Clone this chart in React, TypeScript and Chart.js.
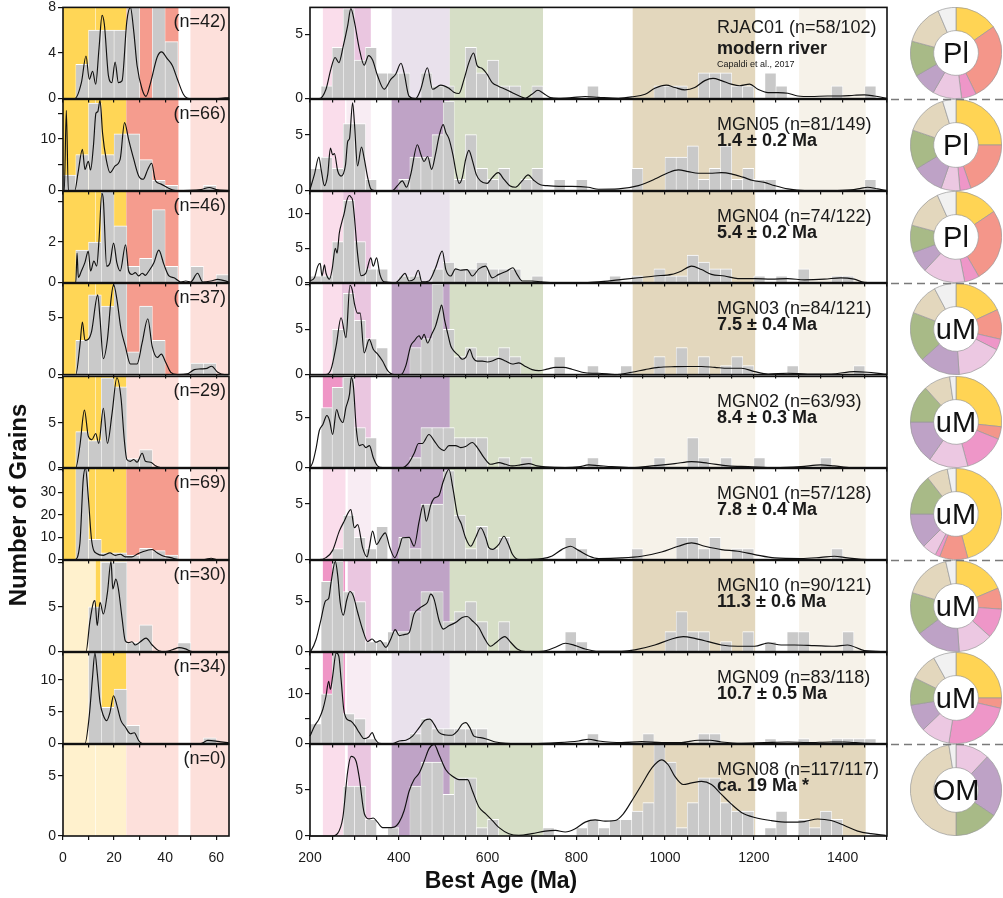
import React, { useEffect, useRef } from 'react';
import { Chart, registerables } from 'chart.js';
Chart.register(...registerables);

const FONT = '"Liberation Sans", Arial, Helvetica, sans-serif';

// ---------------- labels ----------------
const SAMPLE_IDS = ['RJAC01', 'MGN05', 'MGN04', 'MGN03', 'MGN02', 'MGN01', 'MGN10', 'MGN09', 'MGN08'];
const SAMPLE_COUNTS = ['(n=58/102)', '(n=81/149)', '(n=74/122)', '(n=84/121)', '(n=63/93)', '(n=57/128)', '(n=90/121)', '(n=83/118)', '(n=117/117)'];
const SAMPLE_AGES = ['modern river', '1.4 ± 0.2 Ma', '5.4 ± 0.2 Ma', '7.5 ± 0.4 Ma', '8.4 ± 0.3 Ma', '7.8 ± 0.4 Ma', '11.3 ± 0.6 Ma', '10.7 ± 0.5 Ma', 'ca. 19 Ma *'];
const YOUNG_COUNTS = [42, 66, 46, 37, 29, 69, 30, 34, 0];
const DONUT_TAGS = ['Pl', 'Pl', 'Pl', 'uM', 'uM', 'uM', 'uM', 'uM', 'OM'];
const SOURCE_NAMES = ['<23 Ma', '23–45 Ma', '230–275 Ma', '275–340 Ma', '385–515 Ma', '515–725 Ma', '925–1200 Ma', 'other'];

// ---------------- axes ----------------
const YOUNG_MIN = 0, YOUNG_MAX = 65, YOUNG_BIN = 5, YOUNG_STEP = 10;
const YOUNG_XLABELS = [0, 20, 40, 60];
const OLD_MIN = 200, OLD_MAX = 1500, OLD_BIN = 25, OLD_STEP = 50;
const OLD_XLABELS = [200, 400, 600, 800, 1000, 1200, 1400];

const YOUNG_YMAX = [8, 17.7, 4.5, 8, 10.15, 40.6, 10.2, 14.3, 7.6];
const YOUNG_YSTEP = [4, 5, 2, 5, 5, 10, 5, 5, 5];
const YOUNG_YLABELS = [[0, 4, 8], [0, 10], [0, 2], [0, 5], [0, 5], [0, 10, 20, 30], [0, 5], [0, 5, 10], [0, 5]];
const OLD_YMAX = [7.1, 8.15, 13.3, 10.1, 9.1, 8.2, 9.1, 18.3, 9.9];
const OLD_YSTEP = [5, 5, 5, 5, 5, 5, 5, 5, 5];
const OLD_YLABELS = [[0, 5], [0, 5], [0, 5, 10], [0, 5], [0, 5], [0, 5], [0, 5], [0, 10], [0, 5]];

// ---------------- histograms 0-65 Ma (5 Ma bins) ----------------
const YH_RJAC01 = [0, 3, 6, 6, 6, 8, 0, 8, 5, 0, 0, 0, 0];
const YH_MGN05 = [3, 7, 17, 7, 11, 11, 6, 2, 1, 0, 0, 1, 0];
const YH_MGN04 = [0, 1.6, 2.0, 4.5, 2.8, 0.8, 1.2, 3.6, 0.8, 0, 0.8, 0, 0.4];
const YH_MGN03 = [0, 3, 7, 6, 8, 2, 6, 3, 0, 0, 1, 1, 0];
const YH_MGN02 = [0, 4, 3, 10, 9, 1, 2, 0, 0, 0, 0, 0, 0];
const YH_MGN01 = [0, 41, 9, 3, 3, 2, 5, 4, 2, 0, 0, 0, 0];
const YH_MGN10 = [0, 0, 5, 10, 10, 1, 3, 0, 0, 1, 0, 0, 0];
const YH_MGN09 = [0, 0, 14.3, 5.7, 8.55, 2.85, 0, 0, 0, 0, 0, 0.9, 0];
const YH_MGN08: number[] = [];

// ---------------- histograms 200-1500 Ma (25 Ma bins) ----------------
const OH_RJAC01 = [0,1,4,7,3,4,2,2,2,0, 2,1,1,0,4,2,3,1,1,0, 1,0,0,0,0,1,0,0,0,0, 0,1,1,1,0,2,2,2,1,1, 0,2,1,0,0,0,0,1,0,0, 1,0];
const OH_MGN05 = [2,3,2,6,6,1,0,0,1,3, 3,5,8,1,5,2,1,2,0,1, 2,0,1,0,1,0,0,0,0,2, 0,0,3,3,4,1,2,4,1,2, 1,1,0,0,0,0,0,0,0,0, 1,0];
const OH_MGN04 = [1,1,6,12,6,2,2,0,1,1, 0,2,3,2,2,3,2,2,2,0, 1,0,0,0,0,0,0,1,0,1, 0,2,1,1,4,3,2,2,0,0, 1,0,1,0,2,0,0,1,1,0, 0,0];
const OH_MGN03 = [0,0,5,9,6,4,3,0,0,3, 4,10,5,2,3,2,2,3,2,0, 0,0,2,0,0,1,0,0,1,0, 0,2,0,3,0,2,0,1,2,1, 0,0,0,1,0,0,0,0,0,1, 0,0];
const OH_MGN02 = [0,6,8,9,4,3,0,0,0,1, 4,4,4,3,3,3,0,1,0,1, 0,0,0,0,0,1,0,0,0,0, 0,1,0,0,3,1,0,1,0,0, 1,0,0,0,0,0,1,0,0,0, 0,0];
const OH_MGN01 = [0,0,1,4,2,1,3,0,2,1, 5,5,8,4,1,3,1,2,0,0, 0,0,0,2,1,0,0,0,0,1, 0,0,0,2,2,1,2,0,1,1, 0,0,0,0,0,0,0,1,0,0, 0,0];
const OH_MGN10 = [0,7,9,6,5,1,1,2,2,4, 6,6,3,4,5,3,0,3,0,0, 0,0,0,2,1,0,0,0,0,0, 0,0,2,4,2,2,0,1,0,2, 0,1,0,2,2,0,0,0,2,0, 0,0];
const OH_MGN09 = [4,10,19,6,5,1,0,0,0,2, 5,3,3,3,3,3,0,0,0,0, 0,0,0,0,0,2,0,0,0,0, 2,0,0,0,0,2,2,0,0,0, 0,1,0,0,1,0,0,1,1,1, 1,0];
const OH_MGN08 = [0,0,0,5.4,5.4,1.8,0,0.9,0,5.4, 8,8,4.5,6.3,6.3,0.9,1.8,0,0,0, 0,0.9,0,0,0.9,1.8,0.9,1.8,1.8,2.7, 3.6,9.9,8,0.9,3.6,6.3,6.3,3.6,2.7,2.7, 0,0.9,2.7,0,1.8,0.9,2.7,1.8,0,0, 0,0];

// ---------------- KDE curves 0-65 Ma [age, value] ----------------
const YK_RJAC01 = [[0,0],[4.6,0],[7.2,1.4],[9.0,3.74],[10.3,1.7],[11.6,2.4],[12.8,1.26],[14.1,4.4],[15.3,7.3],[16.2,6.5],[17.8,2.0],[19.1,1.4],[20.4,3.2],[21.7,1.4],[23.1,1.55],[25.0,6.8],[26.4,8.0],[27.7,5.9],[29.0,2.9],[31.0,0.8],[32.5,0.2],[34.3,1.4],[36.9,3.65],[38.6,4.1],[40.8,3.5],[42.8,2.9],[44.8,1.7],[47.2,0.36],[49.4,0],[60.6,0],[65,0.1]];
const YK_MGN05 = [[0,0],[0.5,0],[1.3,15.6],[2.1,0],[4.6,0],[5.9,3.5],[7.6,8.0],[8.6,4.1],[9.9,5.7],[10.8,4.0],[11.9,8.6],[12.9,15.0],[13.6,15.3],[14.5,17.5],[15.5,11.1],[16.9,6.1],[18.4,3.5],[20.4,4.8],[22.4,6.1],[24.1,13.2],[25.7,9.9],[27.7,6.1],[29.6,2.9],[31.4,2.2],[33.2,4.1],[34.7,5.3],[36.2,1.9],[38.2,1.3],[40.8,0.6],[44.1,0],[54,0.2],[57.3,0.6],[60,0.2],[65,0]];
const YK_MGN04 = [[0,0],[5.0,0],[5.5,1.46],[6.0,0.25],[7.2,0.57],[8.6,1.0],[9.9,1.55],[10.8,0.57],[12.1,1.06],[13.2,0.81],[14.1,2.1],[15.2,4.4],[15.8,4.07],[17.1,0.81],[18.4,0.97],[19.8,1.95],[21.1,0.97],[22.4,0.57],[24.5,1.87],[25.7,0.57],[27.0,0.4],[28.3,0.49],[29.6,0.33],[31.0,0.46],[32.3,0.36],[33.6,0.57],[35.6,0.98],[37.5,1.6],[39.5,0.9],[41.5,0.33],[43.5,0.24],[46.1,0.03],[48.1,0.08],[50,0.03],[52.7,0.46],[54.7,0.03],[58,0.08],[60.6,0.16],[65,0.03]];
const YK_MGN03 = [[0,0],[5.0,0],[6.6,2.5],[7.6,4.6],[8.6,3.0],[9.9,3.1],[11.2,3.8],[13.6,7.0],[14.5,4.9],[15.8,1.4],[17.4,3.1],[18.8,6.6],[19.8,7.9],[21.1,6.6],[22.7,4.0],[24.4,2.5],[26.4,0.93],[29.0,0.93],[31.0,2.8],[33.2,4.9],[34.9,2.5],[36.9,1.5],[38.5,1.8],[40.2,1.08],[42.2,0.2],[44.8,0],[48.7,0.06],[51.4,0.44],[54,0.5],[56.4,0.55],[58.2,0.73],[60.6,0.2],[63.2,0],[65,0]];
const YK_MGN02 = [[0,0],[5,0],[6.6,2.4],[8.4,6.4],[9.9,3.5],[11.3,3.1],[12.8,3.8],[14.0,2.7],[15.8,6.6],[17.4,2.7],[19.2,6.0],[21.1,10.0],[22.7,7.8],[24.0,3.1],[25.0,0.9],[26.4,0.7],[27.7,0.9],[29,0.6],[31,1.6],[32.3,0.7],[34.3,0.6],[36.2,0.2],[38.2,0],[65,0]];
const YK_MGN01 = [[0,0],[4.6,0],[6.6,7.1],[7.9,35.4],[8.8,40.6],[9.9,27.9],[11.2,8.6],[13.2,2.7],[15.8,1.9],[18.4,3.0],[20.4,1.9],[22.4,2.4],[24.4,1.2],[27,1.2],[29,2.4],[31,3.4],[34.9,4.5],[36.9,3.0],[39.5,1.5],[42.2,0.9],[45.5,0],[55.3,0],[58,0.6],[60.6,0],[65,0]];
const YK_MGN10 = [[0,0],[9.0,0],[10.5,3.3],[11.9,5.5],[12.5,5.7],[13.4,2.9],[14.5,5.5],[15.8,4.2],[17.4,6.6],[18.8,10.1],[19.5,7.0],[20.7,8.1],[21.7,7.0],[23.1,3.8],[24.4,1.2],[25.7,1.0],[27,1.1],[28.3,0.74],[30.3,1.1],[32.5,1.5],[34.9,0.74],[37.5,0.1],[40.2,0],[42.8,0.2],[45.5,0.44],[48,0.3],[50.7,0],[65,0]];
const YK_MGN09 = [[0,0],[8.6,0],[10.3,4.4],[11.5,10.1],[12.5,14.2],[13.4,11.1],[14.5,6.5],[15.8,4.4],[17.1,3.6],[18.4,4.9],[19.8,7.5],[21.1,6.0],[22.7,3.6],[24.4,2.6],[26.4,1.55],[27.9,1.7],[29.6,0.5],[31,0],[54,0],[56.7,0.5],[60.6,0.36],[65,0.1]];
const YK_MGN08: number[][] = [];

// ---------------- KDE curves 200-1500 Ma [age, value] ----------------
const OK_RJAC01 = [[200,0],[221,0],[236,0.73],[247,2.3],[256.5,3.2],[265,2.8],[275,4.1],[285,5.7],[292,7.0],[300,6.0],[311,3.9],[322,2.6],[332,3.35],[341,3.0],[352,1.8],[367,0.73],[382,1.5],[393,1.9],[405,2.75],[412,2.0],[423,0.2],[438,0],[449.5,0.73],[464.5,2.4],[476,0.73],[494.5,1.05],[513,0.8],[524,0.5],[535.5,0.4],[547,1.5],[558,2.8],[568.5,3.55],[577,2.55],[588,2.35],[599,1.9],[610.5,1.25],[625.5,0.95],[640,0.73],[655,0.47],[674,0.16],[685,0.03],[700,0.34],[713.5,0.65],[726.5,0.4],[741.5,0.08],[760,0.03],[790,0.08],[820,0.16],[850,0.1],[895,0.03],[925,0.13],[955,0.34],[977,0.8],[1003,1.05],[1022,0.86],[1044.5,0.68],[1067,0.86],[1089.5,1.4],[1108,1.57],[1127,1.4],[1149,1.13],[1168,1.0],[1190.5,1.13],[1209,0.73],[1232,0.47],[1254,0.47],[1276.5,0.42],[1299,0.2],[1329,0.16],[1366,0.2],[1396,0.2],[1426,0.26],[1449,0.29],[1471,0.2],[1500,0.03]];
const OK_MGN05 = [[200,0.1],[210,1.45],[220,3.0],[225,1.9],[232.5,0.44],[240,1.45],[246,3.8],[251,3.2],[255,3.3],[262.5,1.75],[270,1.3],[280,2.3],[285,4.4],[289,4.65],[296,7.85],[300,6.1],[307,2.2],[316,3.9],[322,2.9],[330,1.16],[337,0.15],[345,0],[386,0],[397,0.44],[408,0.87],[417.5,0.3],[427,1.45],[442,4.1],[450,3.2],[457,2.6],[465,3.05],[474,1.9],[483,3.3],[491,4.9],[500,5.9],[506,5.2],[513,4.65],[522,3.2],[530,1.45],[536,0.64],[543,1.16],[550.5,2.75],[558,3.6],[565.5,2.75],[574.5,1.45],[584,0.87],[599,0.64],[610.5,1.16],[624,1.6],[637,1.0],[650,0.44],[663,0.3],[678,0.87],[691.5,1.4],[704,0.93],[719,0.52],[734,0.44],[760,0.38],[790,0.38],[827,0.3],[850,0.12],[895,0.15],[940,0.44],[981,1.1],[1007,1.6],[1030,1.85],[1052,1.7],[1074.5,1.55],[1101,1.55],[1127,1.6],[1149,1.5],[1175.5,1.2],[1198,0.9],[1224,0.73],[1247,0.44],[1276.5,0.15],[1314,0],[1374,0],[1419,0.06],[1441,0.2],[1456,0.3],[1479,0.15],[1500,0]];
const OK_MGN04 = [[200,0.25],[210,0.7],[217.5,2.4],[223,2.8],[227,0.96],[232.5,2.6],[236,1.4],[244,0.5],[250,2.0],[257,5.0],[261,4.3],[266,7.2],[272,8.9],[277,10.1],[283,12.0],[289,12.7],[292,12.5],[296,12.0],[300,9.6],[307,4.3],[315,1.0],[326,1.4],[337,3.6],[342.5,2.4],[350,3.6],[357.5,1.2],[367,0.1],[393.5,0],[404.5,0.7],[414,1.35],[423,0.24],[434.5,0.5],[444,1.8],[452,0.1],[468,0.24],[483,2.16],[498,4.6],[506,1.9],[517,0.96],[528,2.0],[539,1.8],[554,1.9],[565.5,0.96],[580.5,2.0],[595.5,2.4],[610.5,0.7],[625.5,1.2],[644,1.7],[657,2.16],[666.5,1.2],[678,0.24],[700,0.24],[722.5,0.1],[752.5,0],[820,0],[850,0.1],[895,0.4],[940,0.7],[977,0.97],[1015,1.2],[1037,1.7],[1059.5,2.4],[1082,1.9],[1104.5,1.2],[1134,0.97],[1164,0.58],[1202,0.58],[1239,0.5],[1276.5,0.58],[1314,0.4],[1359,0.5],[1396,0.7],[1426,0.5],[1449,0.05],[1500,0]];
const OK_MGN03 = [[200,0],[236,0],[247.5,0.6],[259,3.2],[270,6.3],[281,4.1],[290,9.9],[295,9.4],[300,7.9],[307,6.8],[313,6.8],[322,2.4],[333.5,3.9],[342.5,2.8],[352,2.3],[363.5,1.5],[375,0.44],[390,0],[405,0],[416,1.0],[427,3.2],[434.5,3.7],[446,4.3],[451,3.9],[457,4.45],[465,3.5],[474,4.45],[483,5.4],[492,7.0],[496.5,7.7],[503,6.1],[510,4.6],[517,3.2],[524.5,2.6],[534,2.15],[543,1.7],[551,1.9],[560,2.8],[567,1.9],[577,1.5],[588,1.5],[599.5,1.4],[610.5,1.5],[625.5,1.8],[640.5,1.5],[655.5,1.17],[670.5,1.3],[685.5,0.9],[700.5,0.55],[715.5,0.44],[734,0.6],[753,0.8],[771,0.8],[790,0.6],[813,0.26],[835.5,0.15],[850,0.15],[887,0],[925,0.26],[955,0.55],[985,0.8],[1022,0.88],[1052,0.9],[1082,0.9],[1112,0.8],[1142,0.7],[1172,0.7],[1202,0.33],[1232,0.07],[1276.5,0.15],[1321,0.07],[1374,0.07],[1426,0.33],[1456,0.26],[1493.5,0.07],[1500,0.05]];
const OK_MGN02 = [[200,0],[206,0.5],[214,2.0],[221,3.7],[229,4.3],[238,5.2],[244,4.7],[251,3.3],[260,5.8],[266,5.0],[274,4.5],[281,6.0],[289,7.3],[293,9.0],[298,8.0],[304,4.0],[311,2.2],[319,2.3],[326,2.0],[334,2.2],[342.5,1.0],[352,0.17],[363.5,0],[408.5,0],[423,0.5],[434.5,1.4],[444.5,2.4],[453,2.4],[468,3.3],[479.5,2.7],[491,2.0],[502,1.7],[513,2.2],[528,2.2],[539.5,2.0],[550.5,2.1],[565.5,2.5],[577,2.0],[592,1.0],[607,0.33],[625.5,0.5],[640.5,0.33],[655.5,0.17],[674,0.27],[693,0.4],[711.5,0.17],[730,0.07],[775,0],[805,0.07],[828,0.27],[850,0.2],[880,0.1],[925,0],[977,0.2],[1022,0.4],[1059.5,0.6],[1097,0.43],[1142,0.17],[1187,0.1],[1247,0],[1306,0.1],[1351,0.27],[1381,0.17],[1419,0],[1500,0]];
const OK_MGN01 = [[200,0],[221,0],[236,0.18],[251,0.83],[266,2.56],[277,3.45],[292,4.5],[300,2.86],[307.5,3.15],[318.5,1.07],[328.5,0.24],[333.5,1.07],[341,2.56],[350,1.37],[360,1.96],[369.5,2.4],[380,1.07],[391,0.18],[401,1.07],[408.5,1.96],[423.5,2.0],[434.5,1.2],[446,3.45],[455,4.9],[462,3.45],[472,4.9],[479.5,5.5],[491,5.8],[500,7.0],[513,8.1],[522,6.4],[532,4.05],[541,3.2],[550.5,1.96],[562,1.2],[573,1.96],[584.5,2.86],[596,1.96],[603,1.07],[611,0.92],[625.5,1.37],[637,2.1],[647,1.37],[656,0.48],[671,0],[723,0.09],[745.5,0.33],[768,0.92],[787,1.2],[805,0.83],[828,0.33],[850,0.1],[902,0.15],[947,0.3],[992,0.68],[1030,1.2],[1059.5,1.5],[1089.5,1.2],[1127,0.9],[1164,0.75],[1202,0.45],[1247,0.15],[1306,0.1],[1351,0.2],[1381,0.3],[1411,0.15],[1456,0],[1500,0]];
const OK_MGN10 = [[200,0],[202.5,0.1],[214,1.26],[225,3.25],[235,5.07],[242,5.3],[247.5,6.9],[257,9.0],[262.5,7.55],[268,4.9],[275,3.64],[283,5.2],[290,6.0],[297.5,5.56],[307.5,3.9],[318.5,2.2],[330,1.0],[340,1.26],[348.5,0.93],[358,1.1],[371,0.43],[382,1.26],[392,2.2],[401,1.6],[412,1.7],[423.5,1.9],[434.5,3.74],[446,4.3],[455,4.57],[464.5,4.9],[472,5.73],[479.5,5.23],[491,3.08],[500.5,2.25],[513,2.58],[528,2.9],[543,3.4],[554,3.5],[565.5,3.08],[580.5,2.4],[592,1.42],[607,0.53],[618,0.86],[639,1.5],[652,0.93],[667,0.26],[685.5,0],[723,0.03],[753,0.43],[775.5,0.83],[798,0.6],[820,0.26],[850,0.03],[902,0.03],[932,0.17],[977,0.66],[1015,1.26],[1041,1.5],[1067,1.32],[1097,1.0],[1127,0.66],[1164,0.53],[1202,0.53],[1232,0.86],[1261.5,0.66],[1291.5,0.66],[1336,0.6],[1381,0.53],[1411,0.66],[1449,0.1],[1500,0]];
const OK_MGN09 = [[200,1.5],[210,3.5],[220,4.9],[229,6.9],[236,9.5],[242,12.5],[246,10.9],[251,13.5],[259,18.2],[265,17.5],[270,12.9],[276,6.9],[283,4.9],[292.5,4.5],[302,3.5],[311,2.2],[322,1.0],[332,1.33],[340,2.2],[347,0.87],[356,0.07],[386,0],[401,0.53],[416,0.67],[431,1.5],[446,3.2],[459,4.7],[470,4.9],[479.5,3.9],[491,2.2],[506,1.73],[519.5,1.67],[532,2.5],[543,3.9],[551,4.2],[560,3.2],[569.5,1.5],[584.5,1.2],[599.5,0.87],[618,0.33],[641,0.07],[700.5,0],[760,0.2],[805,0.53],[828,0.87],[850,0.53],[902,0.2],[947,0.4],[992,0.2],[1037,0.2],[1074.5,0.67],[1101,0.67],[1127,0.33],[1172,0.07],[1224,0.2],[1276.5,0.33],[1321,0.2],[1374,0.33],[1404,0.33],[1449,0.07],[1500,0]];
const OK_MGN08 = [[200,0],[251,0],[262,0.25],[274,2.0],[285,7.0],[292.5,8.6],[304,8.05],[311,6.3],[322.5,2.4],[333.5,1.85],[342.5,1.95],[352,1.5],[363.5,0.9],[374.5,0.9],[389.5,0.96],[401,1.5],[412,2.73],[423.5,4.86],[434.5,6.1],[446,6.8],[457,8.05],[468.5,9.47],[479.5,9.9],[491,8.76],[506,7.16],[521,6.45],[536,6.1],[555,6.1],[566,4.86],[581,3.1],[596,2.4],[611,1.67],[626,0.9],[648,0.25],[670.5,0.07],[700,0.25],[730,0.53],[753,0.6],[775,0.43],[797.5,0.78],[820,1.5],[842.5,1.74],[865,1.6],[887.5,1.67],[906,2.4],[925,3.8],[947.5,5.57],[970,7.34],[992,8.23],[1007,7.7],[1022,6.45],[1041,5.57],[1060,5.74],[1082,5.9],[1104.5,5.57],[1127,4.5],[1149.5,3.44],[1172,2.55],[1202,2.0],[1239,1.67],[1277,1.5],[1314,1.56],[1344,1.84],[1374,1.67],[1404,1.13],[1434,0.53],[1464,0.25],[1497,0.07]];

// ---------------- age bands [from, to, colour key] ----------------
const YB_RJAC01 = [[0,12.7,'Y'],[12.9,24.8,'Y'],[24.8,45.2,'S'],[49.9,65,'P']];
const YB_MGN05 = [[0,12.7,'Y'],[12.9,24.8,'Y'],[24.8,45.2,'S'],[49.9,65,'P']];
const YB_MGN04 = [[0,12.7,'Y'],[12.9,24.8,'Y'],[24.8,45.2,'S'],[49.9,65,'P']];
const YB_MGN03 = [[0,12.7,'Y'],[12.9,24.8,'Y'],[24.8,45.2,'S'],[49.9,65,'P']];
const YB_MGN02 = [[0,12.7,'Y'],[12.9,24.8,'Y'],[24.8,45.2,'P'],[49.9,65,'P']];
const YB_MGN01 = [[0,12.7,'Y'],[12.9,24.8,'Y'],[24.8,45.2,'S'],[49.9,65,'P']];
const YB_MGN10 = [[0,12.7,'LY'],[12.8,14.5,'Y'],[14.5,24.8,'LY'],[24.8,45.2,'P'],[49.9,65,'P']];
const YB_MGN09 = [[0,15.1,'LY'],[15.1,24.8,'Y'],[24.8,45.2,'P'],[49.9,65,'P']];
const YB_MGN08 = [[0,12.7,'LY'],[12.9,24.8,'LY'],[24.8,45.2,'P'],[49.9,65,'P']];

const OB_RJAC01 = [[229,275,'LP'],[275,337,'MV'],[384,515,'LV'],[515,725,'GR'],[927,1203,'TN'],[1302,1452,'VLT']];
const OB_MGN05 = [[229,279,'LP'],[282,337,'VLP'],[384,515,'PU'],[515,725,'GR'],[927,1203,'TN'],[1302,1452,'VLT']];
const OB_MGN04 = [[229,275,'LP'],[275,337,'MV'],[384,515,'LV'],[515,725,'VLG'],[927,1203,'TN'],[1302,1452,'VLT']];
const OB_MGN03 = [[229,272,'LP'],[272,337,'MV'],[384,515,'PU'],[515,725,'GR'],[927,1203,'TN'],[1302,1452,'VLT']];
const OB_MGN02 = [[229,272,'HP'],[272,337,'MV'],[384,515,'PU'],[515,725,'GR'],[927,1203,'VLT'],[1302,1452,'VLT']];
const OB_MGN01 = [[229,280,'LP'],[285,337,'VLP'],[384,515,'PU'],[515,725,'GR'],[927,1203,'VLT'],[1302,1452,'VLT']];
const OB_MGN10 = [[229,279,'HP'],[285,337,'MV'],[384,515,'PU'],[515,725,'GR'],[927,1203,'TN'],[1302,1452,'VLT']];
const OB_MGN09 = [[229,279,'HP'],[283,337,'VLP'],[384,515,'LV'],[515,725,'VLG'],[927,1203,'VLT'],[1302,1452,'VLT']];
const OB_MGN08 = [[229,279,'LP'],[285,337,'MV'],[384,515,'PU'],[515,725,'GR'],[927,1203,'TN'],[1302,1452,'TN']];

// ---------------- provenance donuts (degrees of 360) ----------------
const DN_RJAC01 = [55, 99, 19, 37, 30, 45, 52, 23];
const DN_MGN05 = [90, 71, 14, 24, 40, 50, 54, 17];
const DN_MGN04 = [56, 94, 19, 54, 27, 35, 51, 24];
const DN_MGN03 = [65, 38, 14, 59, 52, 63, 41, 28];
const DN_MGN02 = [96, 16, 53, 50, 55, 48, 34, 8];
const DN_MGN01 = [165, 36, 6, 18, 45, 52, 27, 11];
const DN_MGN10 = [67, 27, 38, 44, 57, 54, 60, 13];
const DN_MGN09 = [90, 13, 86, 37, 35, 35, 35, 29];
const DN_MGN08 = [0, 0, 0, 43.5, 80.5, 56, 171, 9];

const YOUNG_HISTS = [YH_RJAC01, YH_MGN05, YH_MGN04, YH_MGN03, YH_MGN02, YH_MGN01, YH_MGN10, YH_MGN09, YH_MGN08];
const OLD_HISTS = [OH_RJAC01, OH_MGN05, OH_MGN04, OH_MGN03, OH_MGN02, OH_MGN01, OH_MGN10, OH_MGN09, OH_MGN08];
const YOUNG_KDES = [YK_RJAC01, YK_MGN05, YK_MGN04, YK_MGN03, YK_MGN02, YK_MGN01, YK_MGN10, YK_MGN09, YK_MGN08];
const OLD_KDES = [OK_RJAC01, OK_MGN05, OK_MGN04, OK_MGN03, OK_MGN02, OK_MGN01, OK_MGN10, OK_MGN09, OK_MGN08];
const YOUNG_BANDS = [YB_RJAC01, YB_MGN05, YB_MGN04, YB_MGN03, YB_MGN02, YB_MGN01, YB_MGN10, YB_MGN09, YB_MGN08];
const OLD_BANDS = [OB_RJAC01, OB_MGN05, OB_MGN04, OB_MGN03, OB_MGN02, OB_MGN01, OB_MGN10, OB_MGN09, OB_MGN08];
const DONUTS = [DN_RJAC01, DN_MGN05, DN_MGN04, DN_MGN03, DN_MGN02, DN_MGN01, DN_MGN10, DN_MGN09, DN_MGN08];

// ---------------- styles ----------------
const BAND_COLORS: Record<string, string> = {
  Y: '#FFD656', S: '#F59C8E', P: '#FDE0DB', LY: '#FFF1CD',
  LP: '#FADDEB', MV: '#EAC6E0', VLP: '#F8ECF3', HP: '#EF96C6', LV: '#E9E1EC', PU: '#BFA3C6',
  GR: '#D6DEC6', VLG: '#F3F4EF', TN: '#E3D7BD', VLT: '#F6F2E9',
};
const DONUT_COLORS = ['#FFD454', '#F4968A', '#EE96C8', '#ECC8E2', '#BEA2C6', '#A8BA87', '#E3D7BD', '#F1F1F1'];
const BAR_COLOR = '#c9c9c9';
const INK = '#1a1a1a';

const ROW_BOTTOM = [99, 191, 283, 375, 468, 560, 652, 744, 836];
const AREA_H = 92;
const PAD_TOP = 10;

type PanelProps = {
  canvasLeft: number; yAxisW: number; areaW: number; padRight: number; bottom: number; last: boolean; z: number;
  xMin: number; xMax: number; xStep: number; xLabels: number[]; binW: number;
  hist: number[]; kde: number[][]; bands: any[];
  yMax: number; yStep: number; yLabels: number[];
};

function Panel(p: PanelProps) {
  const ref = useRef<HTMLCanvasElement>(null);
  const xAxisH = p.last ? 34 : 10;
  const w = p.yAxisW + p.areaW + p.padRight;
  const h = PAD_TOP + AREA_H + xAxisH;
  const top = p.bottom - AREA_H - PAD_TOP;
  useEffect(() => {
    const bandPlugin = {
      id: 'agebands',
      beforeDatasetsDraw(chart: any) {
        const { ctx, chartArea, scales } = chart;
        const x = scales.x;
        ctx.save();
        for (const [a, b, key] of p.bands) {
          const x0 = Math.max(chartArea.left, x.getPixelForValue(a));
          const x1 = Math.min(chartArea.right, x.getPixelForValue(b));
          ctx.fillStyle = BAND_COLORS[key];
          ctx.fillRect(x0, chartArea.top, x1 - x0, chartArea.bottom - chartArea.top);
        }
        ctx.restore();
      },
      afterDatasetsDraw(chart: any) {
        const { ctx, chartArea } = chart;
        ctx.save();
        ctx.strokeStyle = '#111';
        ctx.lineWidth = 1.6;
        ctx.strokeRect(chartArea.left, chartArea.top, chartArea.right - chartArea.left, chartArea.bottom - chartArea.top);
        ctx.restore();
      },
    };
    const bars = p.hist.map((v, i) => ({ x: p.xMin + p.binW * (i + 0.5), y: v }));
    const line = p.kde.map(([x, y]) => ({ x, y }));
    const chart = new Chart(ref.current as HTMLCanvasElement, {
      type: 'bar',
      data: {
        datasets: [
          { type: 'line', data: line, borderColor: '#111', borderWidth: 1.15, pointRadius: 0, cubicInterpolationMode: 'monotone', fill: false, order: 0, clip: 1 } as any,
          { type: 'bar', data: bars, backgroundColor: BAR_COLOR, borderColor: '#ffffff', borderWidth: { top: 1, left: 0.6, right: 0.6, bottom: 0 }, borderSkipped: false, barPercentage: 1, categoryPercentage: 1, order: 1, clip: 0 } as any,
        ],
      },
      options: {
        animation: false,
        responsive: false,
        maintainAspectRatio: false,
        events: [],
        layout: { padding: { top: PAD_TOP, right: p.padRight, left: 0, bottom: 0 } },
        plugins: { legend: { display: false }, tooltip: { enabled: false } },
        scales: {
          x: {
            type: 'linear', min: p.xMin, max: p.xMax, offset: false,
            grid: { display: true, drawOnChartArea: false, drawTicks: true, tickLength: 4, color: '#111', lineWidth: 1.2, offset: false },
            border: { display: false },
            ticks: {
              stepSize: p.xStep, autoSkip: false, maxRotation: 0, minRotation: 0, includeBounds: false, padding: 10,
              color: INK, font: { family: FONT, size: 14 },
              callback: (v: any) => (p.last && p.xLabels.includes(Number(v)) ? String(v) : ''),
            },
            afterFit: (s: any) => { s.height = xAxisH; },
          },
          y: {
            type: 'linear', min: 0, max: p.yMax,
            grid: { display: true, drawOnChartArea: false, drawTicks: true, tickLength: 5, color: '#111', lineWidth: 1.2 },
            border: { display: false },
            ticks: {
              stepSize: p.yStep, autoSkip: false, includeBounds: false, padding: 2,
              color: INK, font: { family: FONT, size: 14 },
              callback: (v: any) => (p.yLabels.includes(Number(v)) ? String(v) : ''),
            },
            afterFit: (s: any) => { s.width = p.yAxisW; },
          },
        },
      } as any,
      plugins: [bandPlugin],
    });
    return () => chart.destroy();
  }, []);
  return (
    <canvas ref={ref} width={w} height={h}
      style={{ position: 'absolute', left: p.canvasLeft, top, width: w, height: h, zIndex: p.z }} />
  );
}

function Donut({ values, cx, cy }: { values: number[]; cx: number; cy: number }) {
  const ref = useRef<HTMLCanvasElement>(null);
  useEffect(() => {
    const keep = values.map((v, i) => i).filter(i => values[i] > 0);
    const chart = new Chart(ref.current as HTMLCanvasElement, {
      type: 'doughnut',
      data: {
        labels: keep.map(i => SOURCE_NAMES[i]),
        datasets: [{ data: keep.map(i => values[i]), backgroundColor: keep.map(i => DONUT_COLORS[i]), borderColor: '#9a9a9a', borderWidth: 0.7 }],
      },
      options: {
        animation: false, responsive: false, maintainAspectRatio: false, events: [], cutout: '49%',
        layout: { padding: 0 },
        plugins: { legend: { display: false }, tooltip: { enabled: false } },
      } as any,
    });
    return () => chart.destroy();
  }, []);
  return <canvas ref={ref} width={92} height={92} style={{ position: 'absolute', left: cx - 46, top: cy - 46, width: 92, height: 92, zIndex: 30 }} />;
}

function Txt({ x, baseline, size, bold, children, align, width }: any) {
  const top = baseline - size * 0.8465;
  const style: any = {
    position: 'absolute', top, fontSize: size, lineHeight: size + 'px', fontWeight: bold ? 'bold' : 'normal',
    fontFamily: FONT, color: INK, whiteSpace: 'nowrap', zIndex: 50,
  };
  if (align === 'right') { style.left = x - width; style.width = width; style.textAlign = 'right'; }
  else style.left = x;
  return <div style={style}>{children}</div>;
}

export default function App() {
  const rows = SAMPLE_IDS.map((_, i) => i);
  return (
    <div style={{ position: 'absolute', left: 0, top: 0, width: 1003, height: 898, background: '#fff', overflow: 'hidden', fontFamily: FONT }}>
      {rows.map(i => (
        <Panel key={'y' + i} canvasLeft={0} yAxisW={63} areaW={166} padRight={8} bottom={ROW_BOTTOM[i]} last={i === 8} z={20 - i}
          xMin={YOUNG_MIN} xMax={YOUNG_MAX} xStep={YOUNG_STEP} xLabels={YOUNG_XLABELS} binW={YOUNG_BIN}
          hist={YOUNG_HISTS[i]} kde={YOUNG_KDES[i]} bands={YOUNG_BANDS[i]}
          yMax={YOUNG_YMAX[i]} yStep={YOUNG_YSTEP[i]} yLabels={YOUNG_YLABELS[i]} />
      ))}
      {rows.map(i => (
        <Panel key={'o' + i} canvasLeft={268} yAxisW={42} areaW={579} padRight={8} bottom={ROW_BOTTOM[i]} last={i === 8} z={20 - i}
          xMin={OLD_MIN} xMax={OLD_MAX} xStep={OLD_STEP} xLabels={OLD_XLABELS} binW={OLD_BIN}
          hist={OLD_HISTS[i]} kde={OLD_KDES[i]} bands={OLD_BANDS[i]}
          yMax={OLD_YMAX[i]} yStep={OLD_YSTEP[i]} yLabels={OLD_YLABELS[i]} />
      ))}
      {rows.map(i => (
        <Donut key={'d' + i} values={DONUTS[i]} cx={956} cy={ROW_BOTTOM[i] - 46} />
      ))}
      {rows.map(i => (
        <div key={'t' + i} style={{ position: 'absolute', left: 956 - 30, top: ROW_BOTTOM[i] - 46 - 18, width: 60, height: 36, lineHeight: '36px', textAlign: 'center', fontSize: 29, fontFamily: FONT, color: '#111', zIndex: 60 }}>
          {DONUT_TAGS[i]}
        </div>
      ))}
      {rows.map(i => (
        <Txt key={'n' + i} x={226} align="right" width={100} baseline={ROW_BOTTOM[i] - 71.5} size={18}>(n={YOUNG_COUNTS[i]})</Txt>
      ))}
      {rows.map(i => (
        <Txt key={'s' + i} x={717} baseline={ROW_BOTTOM[i] - (i === 0 ? 66 : 61)} size={18}>{SAMPLE_IDS[i]} {SAMPLE_COUNTS[i]}</Txt>
      ))}
      {rows.map(i => (
        <Txt key={'a' + i} x={717} baseline={ROW_BOTTOM[i] - 44.5} size={18} bold>{SAMPLE_AGES[i]}</Txt>
      ))}
      <Txt x={717} baseline={ROW_BOTTOM[0] - 31.5} size={9}>Capaldi et al., 2017</Txt>
      <svg width={1003} height={898} style={{ position: 'absolute', left: 0, top: 0, zIndex: 40, pointerEvents: 'none' }}>
        {[0, 2, 5, 7].map(i => (
          <line key={i} x1={891} x2={1003} y1={ROW_BOTTOM[i] + 0.5} y2={ROW_BOTTOM[i] + 0.5} stroke="#7a7a7a" strokeWidth={1.5} strokeDasharray="8 5" />
        ))}
      </svg>
      <div style={{ position: 'absolute', left: 18 - 150, top: 505 - 15, width: 300, height: 30, lineHeight: '30px', textAlign: 'center', transform: 'rotate(-90deg)', fontSize: 24, fontWeight: 'bold', fontFamily: FONT, color: '#111', zIndex: 50 }}>
        Number of Grains
      </div>
      <div style={{ position: 'absolute', left: 501 - 150, top: 880 - 15, width: 300, height: 30, lineHeight: '30px', textAlign: 'center', fontSize: 23, fontWeight: 'bold', fontFamily: FONT, color: '#111', zIndex: 50 }}>
        Best Age (Ma)
      </div>
    </div>
  );
}
